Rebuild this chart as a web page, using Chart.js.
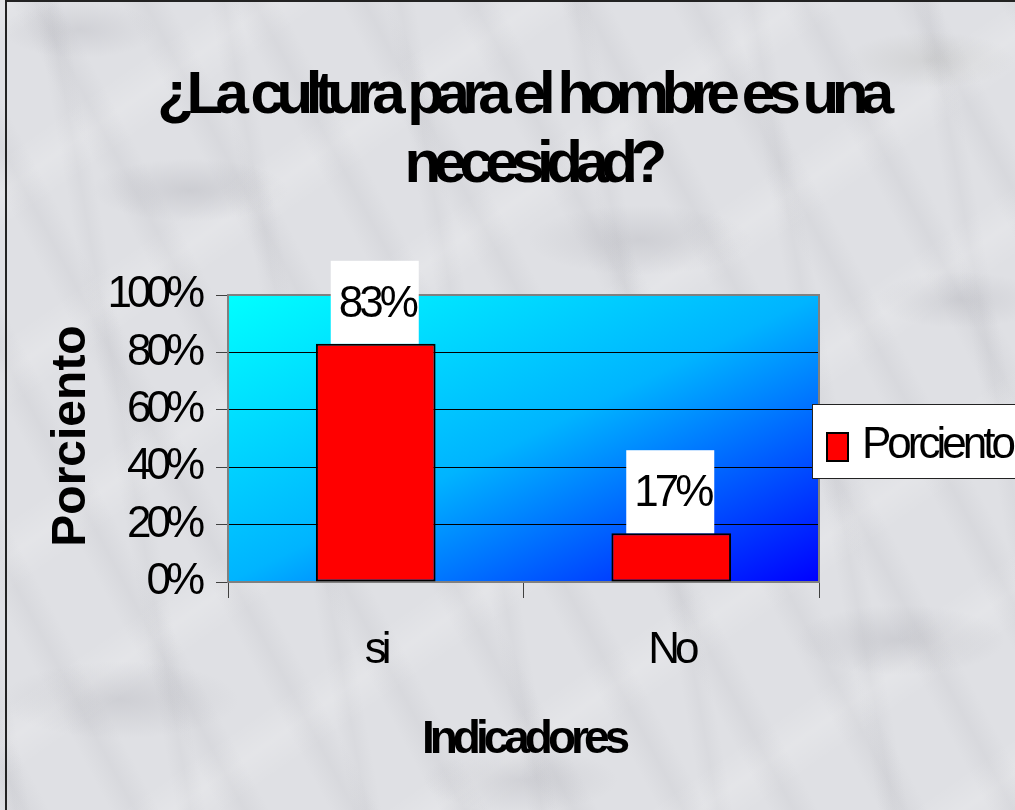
<!DOCTYPE html>
<html>
<head>
<meta charset="utf-8">
<script src="https://cdn.jsdelivr.net/npm/chart.js@4"></script>
<style>
  html, body { margin: 0; padding: 0; overflow: hidden; }
  #wrap { position: relative; width: 1015px; height: 810px;
    background:
      radial-gradient(ellipse 140px 45px at 190px 190px, rgba(130,130,140,.2), transparent 70%),
      radial-gradient(ellipse 160px 50px at 640px 240px, rgba(130,130,140,.18), transparent 70%),
      radial-gradient(ellipse 150px 50px at 900px 640px, rgba(130,130,140,.2), transparent 70%),
      radial-gradient(ellipse 170px 55px at 120px 700px, rgba(130,130,140,.18), transparent 70%),
      radial-gradient(ellipse 140px 45px at 520px 780px, rgba(130,130,140,.16), transparent 70%),
      radial-gradient(ellipse 120px 40px at 930px 60px, rgba(150,150,140,.18), transparent 70%),
      radial-gradient(ellipse 110px 40px at 80px 30px, rgba(130,130,140,.16), transparent 70%),
      radial-gradient(ellipse 120px 40px at 960px 300px, rgba(130,130,140,.16), transparent 70%),
      repeating-linear-gradient(62deg, rgba(120,120,130,0) 0px, rgba(120,120,130,.07) 22px, rgba(120,120,130,0) 44px, rgba(120,120,130,0) 97px),
      repeating-linear-gradient(-35deg, rgba(255,255,255,0) 0px, rgba(255,255,255,.16) 30px, rgba(255,255,255,0) 60px, rgba(255,255,255,0) 151px),
      repeating-linear-gradient(80deg, rgba(110,110,120,0) 0px, rgba(110,110,120,.05) 15px, rgba(110,110,120,0) 30px, rgba(110,110,120,0) 173px),
      #dfe0e4;
  }
  #frame { position: absolute; left: 5px; top: 0; width: 1010px; height: 810px;
    border-left: 2px solid #222; border-top: 2px solid #222; box-sizing: border-box; pointer-events: none; }
  canvas { position: absolute; left: 0; top: 0; }
</style>
</head>
<body>
<div id="wrap">
  <canvas id="chart" width="1015" height="810"></canvas>
  <div id="frame"></div>
</div>
<script>
const CATEGORIES = ['si', 'No'];
const VALUES = [83, 17];
const Y_TICKS = [0, 20, 40, 60, 80, 100];
const SERIES_NAME = 'Porciento';
const TITLE_LINES = ['¿La cultura para el hombre es una', 'necesidad?'];
const X_TITLE = 'Indicadores';
const Y_TITLE = 'Porciento';

const FONT = '"Liberation Sans", Arial, sans-serif';

// tight spacing like the original office chart
const spacing = {
  id: 'spacing',
  beforeLayout(chart) { chart.ctx.letterSpacing = '-5px'; },
  beforeDraw(chart) { chart.ctx.letterSpacing = '-5px'; }
};

// gradient plot area + frame
const plotBg = {
  id: 'plotBg',
  beforeDraw(chart) {
    const { ctx, chartArea: a } = chart;
    const w = a.right - a.left, h = a.bottom - a.top;
    ctx.save();
    ctx.translate(a.left, a.top);
    ctx.scale(w, h);
    const g = ctx.createLinearGradient(0, 0, 1, 1);
    g.addColorStop(0, '#00ffff');
    g.addColorStop(0.5, '#00b4ff');
    g.addColorStop(1, '#0000ff');
    ctx.fillStyle = g;
    ctx.fillRect(0, 0, 1, 1);
    ctx.restore();
  },
  beforeDatasetsDraw(chart) {
    const { ctx, chartArea: a } = chart;
    ctx.save();
    ctx.strokeStyle = '#808080';
    ctx.lineWidth = 2;
    ctx.beginPath();
    ctx.moveTo(a.left, a.top);
    ctx.lineTo(a.right, a.top);
    ctx.lineTo(a.right, a.bottom);
    ctx.stroke();
    ctx.restore();
  }
};

// title, value labels in white boxes, legend box and rotated y title
const extras = {
  id: 'extras',
  afterDatasetsDraw(chart) {
    const { ctx } = chart;
    const meta = chart.getDatasetMeta(0);
    ctx.save();
    ctx.letterSpacing = '-4px';
    ctx.font = '44px ' + FONT;
    ctx.textAlign = 'center';
    ctx.textBaseline = 'alphabetic';
    meta.data.forEach((bar, i) => {
      ctx.fillStyle = '#fff';
      ctx.fillRect(bar.x - 45, bar.y - 83, 88, 83);
      ctx.fillStyle = '#000';
      ctx.fillText(VALUES[i] + '%', bar.x + 1, bar.y - 27);
    });
    ctx.restore();
  },
  afterDraw(chart) {
    const { ctx } = chart;
    ctx.save();
    // title
    ctx.fillStyle = '#000';
    ctx.font = 'bold 60px ' + FONT;
    ctx.letterSpacing = '-7.5px';
    ctx.textAlign = 'center';
    ctx.textBaseline = 'alphabetic';
    ctx.fillText(TITLE_LINES[0], 522, 113);
    ctx.fillText(TITLE_LINES[1], 532, 182);
    // legend
    ctx.fillStyle = '#fff';
    ctx.fillRect(812, 404, 210, 74);
    ctx.strokeStyle = '#222';
    ctx.lineWidth = 1;
    ctx.strokeRect(812.5, 404.5, 210, 74);
    ctx.fillStyle = '#ff0000';
    ctx.fillRect(826, 432, 23, 30);
    ctx.lineWidth = 2;
    ctx.strokeStyle = '#000';
    ctx.strokeRect(827, 433, 21, 28);
    ctx.fillStyle = '#000';
    ctx.letterSpacing = '-4px';
    ctx.font = '44px ' + FONT;
    ctx.textAlign = 'left';
    ctx.fillText(SERIES_NAME, 862, 458);
    // y title
    ctx.letterSpacing = '0px';
    ctx.font = 'bold 48px ' + FONT;
    ctx.translate(85, 436);
    ctx.rotate(-Math.PI / 2);
    ctx.textAlign = 'center';
    ctx.fillText(Y_TITLE, 0, 0);
    ctx.restore();
  }
};

new Chart(document.getElementById('chart'), {
  type: 'bar',
  data: {
    labels: CATEGORIES,
    datasets: [{
      label: SERIES_NAME,
      data: VALUES,
      backgroundColor: '#ff0000',
      borderColor: '#000',
      borderWidth: 2,
      borderSkipped: false,
      barPercentage: 0.405,
      categoryPercentage: 1
    }]
  },
  options: {
    responsive: false,
    animation: false,
    layout: { padding: { left: 25, right: 196, top: 295, bottom: 0 } },
    plugins: {
      legend: { display: false },
      tooltip: { enabled: false },
      title: { display: false }
    },
    scales: {
      y: {
        min: 0, max: 100,
        afterBuildTicks: s => { s.ticks = Y_TICKS.map(v => ({ value: v })); },
        afterFit: s => { s.width = 203; },
        ticks: {
          callback: v => v + '%',
          color: '#000',
          font: { family: FONT, size: 44 },
          padding: 16
        },
        grid: {
          color: c => (c.tick && (c.tick.value === 0 || c.tick.value === 100)) ? '#808080' : '#000',
          tickColor: '#404040',
          tickLength: 12,
          lineWidth: 1
        },
        border: { display: true, color: '#808080', width: 2 }
      },
      x: {
        offset: true,
        afterFit: s => { s.height = 228; },
        ticks: {
          color: '#000',
          font: { family: FONT, size: 44 },
          padding: 26
        },
        grid: {
          offset: true,
          drawOnChartArea: false,
          tickColor: '#404040',
          tickLength: 16
        },
        border: { display: true, color: '#808080', width: 2 },
        title: {
          display: true,
          text: X_TITLE,
          color: '#000',
          font: { family: FONT, size: 46, weight: 'bold', lineHeight: 1.2 },
          padding: { top: 0, bottom: 42 }
        }
      }
    }
  },
  plugins: [spacing, plotBg, extras]
});
</script>
</body>
</html>
